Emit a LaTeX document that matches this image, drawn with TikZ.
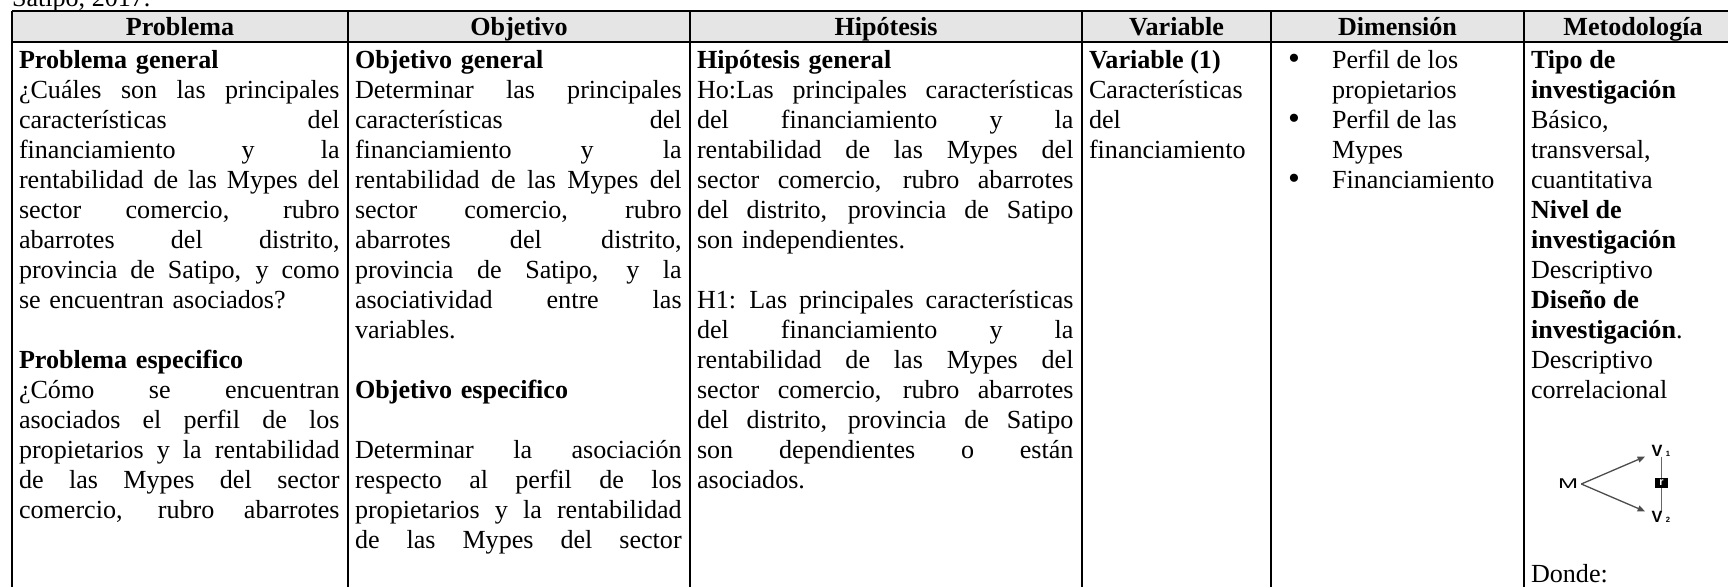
\documentclass[tikz,border=0pt]{standalone}
\usepackage{fontspec}
\setmainfont{Liberation Serif}
\newfontfamily\arialf{Liberation Sans}
\usetikzlibrary{arrows.meta}
\newcommand{\jl}[1]{{\spaceskip=0.25em plus 1fil\xspaceskip=0.3em plus 1fil\makebox[\hsize][s]{#1}}}
\newcommand{\fl}{\rule{0pt}{11pt}}
\newcommand{\bul}{\raisebox{-0.6pt}{\scalebox{1.3}{\textbullet}}}
\begin{document}
\begin{tikzpicture}[x=0.45977pt,y=-0.45977pt,
  every node/.style={inner sep=0pt, outer sep=0pt},
  body/.style={anchor=north west, align=left, font=\fontsize{12pt}{13.793pt}\selectfont},
  head/.style={anchor=base, font=\fontsize{12pt}{13.793pt}\selectfont\bfseries},
  plain/.style={anchor=base west, font=\fontsize{12pt}{13.793pt}\selectfont},
  gridline/.style={line width=0.9pt, black},
  arr/.style={-{Triangle[length=3.4pt,width=2.8pt]}, line width=0.6pt, draw=black!70},
  sans/.style={font=\arialf\fontsize{6.5pt}{7pt}\selectfont},
  vlab/.style={font=\arialf\bfseries\fontsize{7.5pt}{8pt}\selectfont},
  sub/.style={font=\arialf\bfseries\fontsize{3.5pt}{4pt}\selectfont}]
\useasboundingbox (0,0) rectangle (1728,587);
\clip (0,0) rectangle (1728,587);
% header background
\fill[gray!20] (12,11) rectangle (1742,42);
% grid
\draw[gridline] (12,11) -- (1750,11);
\draw[gridline] (12,42) -- (1750,42);
\foreach \xx in {12,348,690,1082,1271,1524,1742}
  \draw[gridline] (\xx,11) -- (\xx,600);
% caption (cut off at the top edge, as in the reference)
\node[plain] (cap) at (12,7) {Satipo, 2017.};
% headers
\node[head] (hP) at (180,36) {Problema};
\node[head] (hO) at (519,36) {Objetivo};
\node[head] (hH) at (886,36) {Hipótesis};
\node[head] (hV) at (1176.5,36) {Variable};
\node[head] (hD) at (1397.5,36) {Dimensión};
\node[head] (hM) at (1633,36) {Metodología};
% Problema
\node[body, text width=147.4pt] (cP) at (19,44.08) {\fl\textbf{Problema general}\\
\jl{¿Cuáles son las principales}\\
\jl{características del}\\
\jl{financiamiento y la}\\
\jl{rentabilidad de las Mypes del}\\
\jl{sector comercio, rubro}\\
\jl{abarrotes del distrito,}\\
\jl{provincia de Satipo, y como}\\
se encuentran asociados?\\
\mbox{}\\
\textbf{Problema especifico}\\
\jl{¿Cómo se encuentran}\\
\jl{asociados el perfil de los}\\
\jl{propietarios y la rentabilidad}\\
\jl{de las Mypes del sector}\\
\jl{comercio, rubro abarrotes}};
% Objetivo
\node[body, text width=150.2pt] (cO) at (355,44.08) {\fl\textbf{Objetivo general}\\
\jl{Determinar las principales}\\
\jl{características del}\\
\jl{financiamiento y la}\\
\jl{rentabilidad de las Mypes del}\\
\jl{sector comercio, rubro}\\
\jl{abarrotes del distrito,}\\
\jl{provincia de Satipo, y la}\\
\jl{asociatividad entre las}\\
variables.\\
\mbox{}\\
\textbf{Objetivo especifico}\\
\mbox{}\\
\jl{Determinar la asociación}\\
\jl{respecto al perfil de los}\\
\jl{propietarios y la rentabilidad}\\
\jl{de las Mypes del sector}};
% Hipotesis
\node[body, text width=173.1pt] (cH) at (697,44.08) {\fl\textbf{Hipótesis general}\\
\jl{Ho:Las principales características}\\
\jl{del financiamiento y la}\\
\jl{rentabilidad de las Mypes del}\\
\jl{sector comercio, rubro abarrotes}\\
\jl{del distrito, provincia de Satipo}\\
son independientes.\\
\mbox{}\\
\jl{H1: Las principales características}\\
\jl{del financiamiento y la}\\
\jl{rentabilidad de las Mypes del}\\
\jl{sector comercio, rubro abarrotes}\\
\jl{del distrito, provincia de Satipo}\\
\jl{son dependientes o están}\\
asociados.};
% Variable
\node[body] (cV) at (1089,44.08) {\fl\textbf{Variable (1)}\\
Características\\
del\\
financiamiento};
% Dimension
\node[plain] (b1) at (1288,68) {\bul};
\node[plain] (b2) at (1288,128) {\bul};
\node[plain] (b3) at (1288,188) {\bul};
\node[body] (cD) at (1332,44.08) {\fl Perfil de los\\
propietarios\\
Perfil de las\\
Mypes\\
Financiamiento};
% Metodologia
\node[body] (cM) at (1531,44.08) {\fl\textbf{Tipo de}\\
\textbf{investigación}\\
Básico,\\
transversal,\\
cuantitativa\\
\textbf{Nivel de}\\
\textbf{investigación}\\
Descriptivo\\
\textbf{Diseño de}\\
\textbf{investigación}.\\
Descriptivo\\
correlacional};
% diagram
\node[sans, inner sep=1.5pt] (M) at (1568,484) {\scalebox{1.7}[1]{M}};
\node[vlab] (V1) at (1657,451) {V};
\node[sub] (s1) at (1668,454) {1};
\node[vlab] (V2) at (1657,517) {V};
\node[sub] (s2) at (1668,520) {2};
\node[fill=black, text=white, minimum width=6pt, minimum height=4.6pt,
      font=\arialf\bfseries\fontsize{5pt}{5pt}\selectfont] (rb) at (1661.5,483) {r};
\draw[arr] (M.east) -- ([xshift=-3pt]V1.south west);
\draw[arr] (M.east) -- ([xshift=-3pt]V2.north west);
\draw[line width=0.6pt, black!60] (V1.south -| rb) -- (rb.north);
\draw[line width=0.6pt, black!60] (rb.south) -- (V2.north -| rb);
\node[plain] (dn) at (1531,582) {Donde:};
\end{tikzpicture}
\end{document}
